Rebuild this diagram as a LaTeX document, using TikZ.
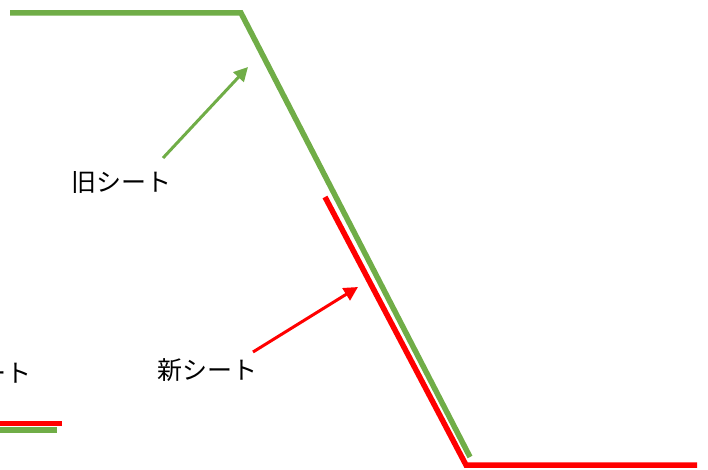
\documentclass[tikz,border=0pt]{standalone}
\usepackage{fontspec}
\newfontfamily\jpfont{Noto Sans CJK JP}
\usetikzlibrary{positioning}
\usetikzlibrary{arrows.meta}
\definecolor{oldgreen}{HTML}{70AD47}
\definecolor{newred}{HTML}{FF0000}

\begin{document}
\begin{tikzpicture}[x=1pt, y=-1pt,
    sheet/.style={line width=5.5pt},
    pointer/.style={line width=3pt, -{Triangle[length=14pt, width=14pt]}},
    lbl/.style={font=\jpfont\fontsize{25}{25}\selectfont, inner sep=0pt}]
    \useasboundingbox (0,0) rectangle (708,470);
    \clip (0,0) rectangle (708,470);

    % old sheet
    \coordinate (o1) at (10,13);
    \coordinate (o2) at (241,13);
    \coordinate (o3) at (470,457);
    \draw [sheet, oldgreen] (o1) -- (o2) -- (o3);

    % new sheet
    \coordinate (n1) at (325,197);
    \coordinate (n2) at (466,465);
    \coordinate (n3) at (697,465);
    \draw [sheet, newred] (n1) -- (n2) -- (n3);

    % labels
    \node [lbl] (oldlabel) at (121,183) {旧シート};
    \node [lbl] (newlabel) at (207,370) {新シート};
    \coordinate (oldtail) at (163,158);
    \coordinate (oldtip) at (248,67);
    \coordinate (newtail) at (253,352);
    \coordinate (newtip) at (358,287);
    \draw [pointer, oldgreen] (oldtail) -- (oldtip);
    \draw [pointer, newred] (newtail) -- (newtip);

    % legend
    \node [lbl, anchor=east] (legendlabel) at (32,373) {新シート};
    \coordinate (r1) at (0,423.5);
    \coordinate (r2) at (62,423.5);
    \coordinate (g1) at (0,430);
    \coordinate (g2) at (57,430);
    \draw [sheet, newred] (r1) -- (r2);
    \draw [sheet, oldgreen] (g1) -- (g2);
\end{tikzpicture}
\end{document}
